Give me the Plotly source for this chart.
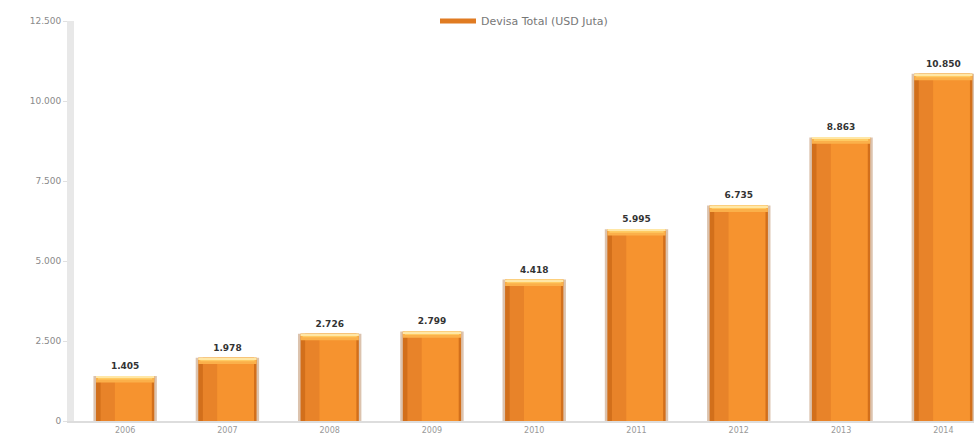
import plotly.graph_objects as go

years = ["2006", "2007", "2008", "2009", "2010", "2011", "2012", "2013", "2014"]
devisa = [1405, 1978, 2726, 2799, 4418, 5995, 6735, 8863, 10850]
series_name = "Devisa Total (USD Juta)"
y_ticks = [0, 2500, 5000, 7500, 10000, 12500]

labels = [f"{v:,}".replace(",", ".") for v in devisa]
cap = 200

fig = go.Figure()
# soft edge / shadow
fig.add_trace(go.Bar(x=years, y=devisa, width=0.62, marker=dict(color="#DCC3AE", line=dict(width=0)),
                     showlegend=False, hoverinfo="skip"))
# main bar body (darker edges)
fig.add_trace(go.Bar(x=years, y=devisa, width=0.57, name=series_name,
                     marker=dict(color="#D26F1B", line=dict(width=0)), showlegend=False))
# lighter body, shifted slightly right for a cylinder look
fig.add_trace(go.Bar(x=years, y=devisa, width=0.50, offset=-0.24, marker=dict(color="#E88329", line=dict(width=0)),
                     showlegend=False, hoverinfo="skip"))
fig.add_trace(go.Bar(x=years, y=devisa, width=0.36, offset=-0.10, marker=dict(color="#F6932F", line=dict(width=0)),
                     showlegend=False, hoverinfo="skip"))
# top cap highlight
fig.add_trace(go.Bar(x=years, y=[cap] * len(devisa), base=[v - cap for v in devisa], width=0.57,
                     marker=dict(color="#FBB04A", line=dict(width=0)), showlegend=False, hoverinfo="skip"))
fig.add_trace(go.Bar(x=years, y=[cap * 0.55] * len(devisa), base=[v - cap * 0.55 for v in devisa], width=0.53,
                     marker=dict(color="#FFCB63", line=dict(width=0)), showlegend=False, hoverinfo="skip"))
fig.add_trace(go.Bar(x=years, y=[cap * 0.25] * len(devisa), base=[v - cap * 0.25 for v in devisa], width=0.57,
                     marker=dict(color="#FFE7A6", line=dict(width=0)), showlegend=False, hoverinfo="skip"))
# value labels
fig.add_trace(go.Scatter(x=years, y=[v + 150 for v in devisa], mode="text", text=labels, textposition="top center",
                         textfont=dict(family="DejaVu Sans", size=9, color="#333333", weight="bold"),
                         showlegend=False, hoverinfo="skip"))
# legend entry (wide orange swatch)
fig.add_trace(go.Scatter(x=[None], y=[None], mode="lines", name=series_name,
                         line=dict(color="#E07B22", width=5), showlegend=True))

fig.update_layout(
    width=980, height=441,
    margin=dict(l=74, r=6, t=21, b=13),
    barmode="overlay",
    plot_bgcolor="white", paper_bgcolor="white",
    separators=",.",
    font=dict(family="DejaVu Sans", size=9, color="#888888"),
    legend=dict(orientation="h", x=0.5, xanchor="center", y=1.0, yanchor="middle", itemwidth=36,
                font=dict(size=11, color="#777777"), bgcolor="rgba(0,0,0,0)"),
    xaxis=dict(type="category", range=[-0.5, 8.3], showgrid=False, showline=True,
               linecolor="#DDDDDD", linewidth=2, ticks="", tickfont=dict(size=8, color="#999999")),
    yaxis=dict(range=[0, 12500], tickvals=y_ticks, tickformat=",d", showgrid=False,
               showline=True, linecolor="#E8E8E8", linewidth=7, zeroline=False,
               ticks="outside", ticklen=4, tickcolor="#E0E0E0",
               tickfont=dict(size=9, color="#8A8A8A")),
)

fig.write_html("out.html")
